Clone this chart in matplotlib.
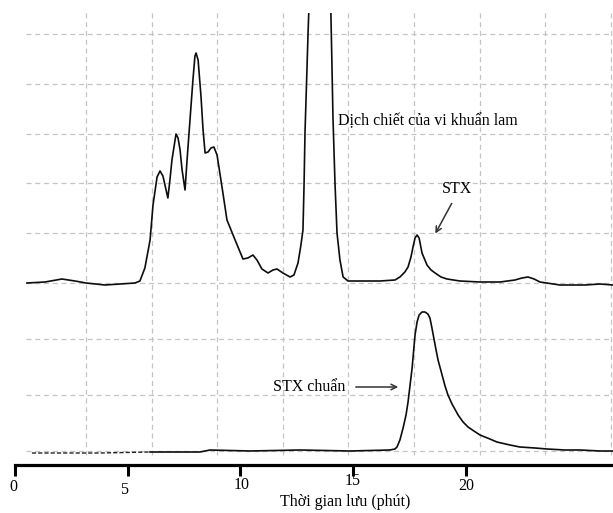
import matplotlib
matplotlib.use("Agg")
import matplotlib.pyplot as plt
import numpy as np

# ---------------- data (retention time in minutes, signal in arbitrary units) -------------
extract_time = [0.53, 1.33, 2.08, 2.66, 3.15, 3.99, 4.66, 5.32, 5.54, 5.76, 5.99, 6.12, 6.30,
                6.43, 6.56, 6.65, 6.78, 6.87, 6.96, 7.14, 7.23, 7.32, 7.41, 7.54, 7.63, 7.76,
                7.89, 7.98, 8.03, 8.12, 8.25, 8.34, 8.43, 8.56, 8.69, 8.82, 8.96, 9.18, 9.40,
                9.76, 10.11, 10.33, 10.55, 10.73, 10.95, 11.22, 11.44, 11.62, 11.88, 12.20,
                12.37, 12.55, 12.68, 12.77, 12.82, 12.86, 12.95, 13.00, 13.08, 13.30, 13.53,
                13.79, 13.97, 14.01, 14.06, 14.10, 14.19, 14.28, 14.41, 14.55, 14.77, 15.30,
                16.19, 16.85, 17.07, 17.29, 17.43, 17.56, 17.65, 17.74, 17.83, 17.92, 18.05,
                18.27, 18.45, 18.63, 18.89, 19.16, 19.73, 20.62, 21.51, 22.17, 22.48, 22.75,
                23.02, 23.28, 24.17, 25.28, 25.94, 26.52]
extract_signal = [0, 1, 4, 2, 0, -2, -1, 0, 2, 15, 43, 78, 106,
                  112, 107, 98, 85, 103, 123, 149, 145, 133, 113, 93, 123, 163,
                  203, 227, 230, 223, 186, 153, 130, 131, 135, 136, 128, 96, 63,
                  43, 24, 25, 28, 23, 14, 10, 13, 14, 10, 6,
                  8, 20, 38, 53, 100, 150, 216, 253, 303, 403, 433,
                  403, 303, 268, 213, 166, 100, 50, 23, 6, 2, 2,
                  2, 3, 6, 11, 16, 26, 36, 45, 48, 45, 30,
                  18, 13, 10, 6, 4, 2, 1, 1, 3, 5, 6,
                  4, 1, -2, -2, -1, -2]

standard_time = [0.75, 2.00, 3.77, 5.99, 8.20, 8.65, 10.42, 12.64, 14.86, 16.63, 16.85, 16.94,
                 17.07, 17.21, 17.34, 17.43, 17.52, 17.61, 17.74, 17.83, 17.92, 18.05, 18.18,
                 18.31, 18.40, 18.49, 18.63, 18.76, 18.94, 19.07, 19.20, 19.38, 19.65, 19.87,
                 20.09, 20.35, 20.62, 21.06, 21.37, 21.95, 22.39, 23.06, 23.59, 24.39, 25.06,
                 25.94, 26.52]
standard_signal = [-2, -2, -2, -1, -1, 1, 0, 1, 0, 1, 2, 4,
                   11, 23, 36, 49, 66, 83, 116, 129, 136, 139, 139,
                   137, 133, 123, 106, 91, 76, 65, 56, 47, 36, 29,
                   24, 20, 16, 12, 9, 6, 4, 3, 2, 1, 1,
                   0, 0]

tick_values = [0, 5, 10, 15, 20]
tick_labels = ["0", "5", "10", "15", "20"]

label_extract = "Dịch chiết của vi khuẩn lam"
label_stx = "STX"
label_std = "STX chuẩn"
x_title = "Thời gian lưu (phút)"

# ---------------- layout helpers (figure pixels -> axes data) -------------
W, H = 613, 513
PX_PER_MIN = 22.55
X0 = 15
def tx(px):
    return (px - X0) / PX_PER_MIN
def ty(py):
    return H - py

tick_label_px = [(13, 487), (124, 490), (242, 485), (353, 481), (466, 486)]

FONT = ["Liberation Serif", "DejaVu Serif"]
plt.rcParams["font.family"] = FONT
FS = 11.5

fig = plt.figure(figsize=(W / 100, H / 100), dpi=100)
fig.patch.set_facecolor("white")

# grid layer (pixel coordinates)
gax = fig.add_axes([0, 0, 1, 1], zorder=0)
gax.set_xlim(0, W)
gax.set_ylim(H, 0)
gax.axis("off")
grid_kw = dict(color="#c4c4c4", lw=0.9, linestyles=(0, (4, 3)))
vx = 86 + 65.6 * np.arange(9)
gax.vlines(vx, 13, 455, **grid_kw)
hy = np.concatenate([34 + 49.8 * np.arange(6), 283 + 56 * np.arange(1, 4)])
gax.hlines(hy, 26, W, **grid_kw)

# data layer
ax = fig.add_axes([0, 0, 1, (H - 13) / H], zorder=1)
ax.patch.set_alpha(0)
ax.set_xlim(tx(0), tx(W))
ax.set_ylim(0, H - 13)

top_offset = ty(283)
bottom_offset = ty(451)

et = np.array(extract_time)
es = np.array(extract_signal)
ax.plot(et, es + top_offset, color="#0d0d0d", lw=1.2)

st = np.array(standard_time)
ss = np.array(standard_signal)
early = st <= 6.0
late = st >= 5.99
ax.plot(st[early], ss[early] + bottom_offset, color="#222222", lw=1.0, ls=(0, (3, 1.5)))
ax.plot(st[late], ss[late] + bottom_offset, color="#0d0d0d", lw=1.2)

# x axis
for s in ["top", "right", "left"]:
    ax.spines[s].set_visible(False)
ax.spines["bottom"].set_position(("data", ty(465)))
ax.spines["bottom"].set_linewidth(2.3)
ax.spines["bottom"].set_bounds(tick_values[0], tx(W))
ax.set_yticks([])
ax.set_xticks(tick_values)
ax.set_xticklabels([])
ax.tick_params(axis="x", direction="out", length=8.0, width=2.2, color="black")

for (lx, ly), lab in zip(tick_label_px, tick_labels):
    ax.text(tx(lx), ty(ly), lab, ha="center", va="center", fontsize=FS, family=FONT)

ax.text(tx(345), ty(502), x_title, ha="center", va="center", fontsize=FS, family=FONT)

ax.text(tx(338), ty(121), label_extract, ha="left", va="center", fontsize=FS, family=FONT)
ax.text(tx(457), ty(189), label_stx, ha="center", va="center", fontsize=FS, family=FONT)
ax.annotate("", xy=(tx(434), ty(236)), xytext=(tx(453), ty(201)),
            arrowprops=dict(arrowstyle="->", color="#333333", lw=1.1))
ax.text(tx(345), ty(387), label_std, ha="right", va="center", fontsize=FS, family=FONT)
ax.annotate("", xy=(tx(401), ty(387)), xytext=(tx(353), ty(387)),
            arrowprops=dict(arrowstyle="->", color="#333333", lw=1.1))

fig.savefig("out.png", dpi=100, facecolor="white")
